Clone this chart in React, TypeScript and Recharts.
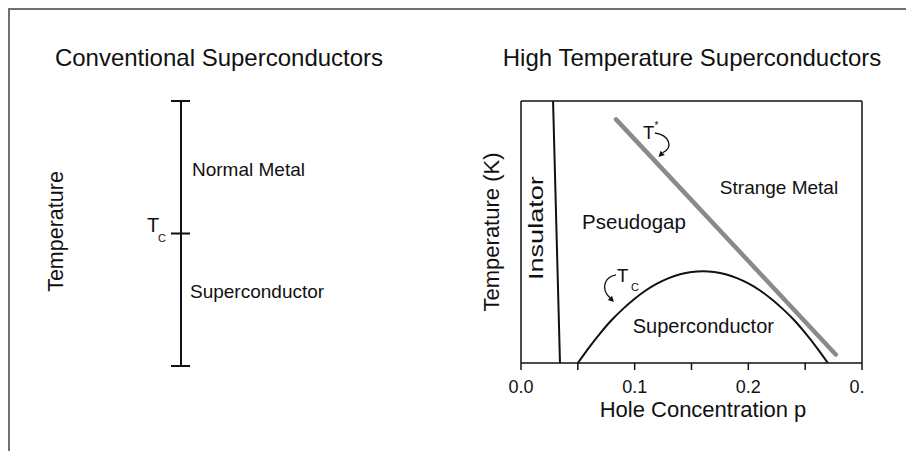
import React from 'react';
import { LineChart, Line, XAxis, YAxis, ReferenceLine, ReferenceDot } from 'recharts';

const FONT = '"Liberation Sans", Arial, Helvetica, sans-serif';
const INK = '#111111';

// ---------- Left panel: conventional superconductors ----------
const convBar = [
  { x: 0.5, T: 0 },
  { x: 0.5, T: 2 },
];
const convLevels = [0, 1, 2]; // bottom, Tc, top
const convCap = [0.4167, 0.575];

// ---------- Right panel: high temperature superconductors ----------
const insulatorBoundary = [
  { p: 0.0282, T: 400 },
  { p: 0.0343, T: 0 },
];
const tStarLine = [
  { p: 0.0836, T: 372 },
  { p: 0.2769, T: 13 },
];
const tcDome = [
  { p: 0.05, T: 0 },
  { p: 0.06, T: 24 },
  { p: 0.07, T: 46 },
  { p: 0.08, T: 66 },
  { p: 0.09, T: 83 },
  { p: 0.1, T: 98 },
  { p: 0.11, T: 111 },
  { p: 0.12, T: 121.5 },
  { p: 0.13, T: 129.6 },
  { p: 0.14, T: 135.4 },
  { p: 0.15, T: 138.8 },
  { p: 0.16, T: 140 },
  { p: 0.17, T: 138.8 },
  { p: 0.18, T: 135.4 },
  { p: 0.19, T: 129.6 },
  { p: 0.2, T: 121.5 },
  { p: 0.21, T: 111 },
  { p: 0.22, T: 98 },
  { p: 0.23, T: 83 },
  { p: 0.24, T: 66 },
  { p: 0.25, T: 46 },
  { p: 0.26, T: 24 },
  { p: 0.27, T: 0 },
];
const xTicks = [0, 0.05, 0.1, 0.15, 0.2, 0.25, 0.3];
const xTickLabels = ['0.0', '', '0.1', '', '0.2', '', '0.'];
const yTicks = [0, 100, 200, 300, 400];

const anno = (key: string, x: number, y: number, render: (cx: number, cy: number) => React.ReactNode) => (
  <ReferenceDot
    key={key}
    x={x}
    y={y}
    r={0}
    fill="none"
    stroke="none"
    ifOverflow="visible"
    label={(props: any) => {
      const vb = props.viewBox || {};
      return <g>{render(vb.x, vb.y)}</g>;
    }}
  />
);

const XTick = (props: any) => {
  const { x, y, payload } = props;
  const i = xTicks.indexOf(payload.value);
  const label = i >= 0 ? xTickLabels[i] : '';
  if (!label) return null;
  const last = label === '0.';
  return (
    <text
      x={last ? x - 12.5 : x}
      y={y}
      dy="0.71em"
      textAnchor={last ? 'start' : 'middle'}
      fontFamily={FONT}
      fontSize={18}
      fill={INK}
    >
      {label}
    </text>
  );
};

export default function App() {
  return (
    <div style={{ position: 'absolute', left: 0, top: 0, width: 906, height: 451, background: '#fff' }}>
      <div
        style={{
          position: 'absolute',
          left: 8,
          top: 8,
          width: 898,
          height: 443,
          borderTop: '2px solid #707070',
          borderLeft: '2px solid #707070',
          boxSizing: 'border-box',
        }}
      />
      <svg style={{ position: 'absolute', left: 0, top: 0 }} width={906} height={451}>
        <text x={219} y={66} textAnchor="middle" fontFamily={FONT} fontSize={24} fill={INK}>
          Conventional Superconductors
        </text>
        <text x={692} y={66} textAnchor="middle" fontFamily={FONT} fontSize={24} fill={INK}>
          High Temperature Superconductors
        </text>
      </svg>

      {/* Left panel */}
      <div style={{ position: 'absolute', left: 0, top: 0 }}>
        <LineChart width={420} height={451} margin={{ top: 101, right: 179, bottom: 85, left: 0 }}>
          <XAxis type="number" dataKey="x" domain={[0, 1]} hide allowDataOverflow />
          <YAxis
            type="number"
            domain={[0, 2]}
            width={121}
            axisLine={false}
            tickLine={false}
            tick={false}
            allowDataOverflow
            label={(props: any) => {
              const vb = props.viewBox;
              const cx = 63;
              const cy = vb.y + vb.height / 2 - 2;
              return (
                <text
                  x={cx}
                  y={cy}
                  transform={`rotate(-90, ${cx}, ${cy})`}
                  textAnchor="middle"
                  fontFamily={FONT}
                  fontSize={21.5}
                  fill={INK}
                >
                  Temperature
                </text>
              );
            }}
          />
          <Line data={convBar} dataKey="T" stroke={INK} strokeWidth={2} dot={false} isAnimationActive={false} />
          {convLevels.map((lv) => (
            <ReferenceLine
              key={'cap' + lv}
              segment={[
                { x: convCap[0], y: lv },
                { x: convCap[1], y: lv },
              ]}
              stroke={INK}
              strokeWidth={2}
              ifOverflow="visible"
            />
          ))}
          {anno('nm', 0.5917, 1.432, (x, y) => (
            <text x={x} y={y} fontFamily={FONT} fontSize={19} fill={INK}>
              Normal Metal
            </text>
          ))}
          {anno('sc', 0.575, 0.515, (x, y) => (
            <text x={x} y={y} fontFamily={FONT} fontSize={19} fill={INK}>
              Superconductor
            </text>
          ))}
          {anno('tc', 0.225, 1.015, (x, y) => (
            <g>
              <text x={x - 1} y={y} fontFamily={FONT} fontSize={20} fill={INK}>
                T
              </text>
              <text x={x + 10} y={y + 10} fontFamily={FONT} fontSize={11} fill={INK}>
                C
              </text>
            </g>
          ))}
        </LineChart>
      </div>

      {/* Right panel */}
      <div style={{ position: 'absolute', left: 420, top: 0 }}>
        <LineChart width={486} height={451} margin={{ top: 101, right: 44, bottom: 58, left: 41 }}>
          <XAxis
            type="number"
            dataKey="p"
            domain={[0, 0.3]}
            ticks={xTicks}
            interval={0}
            allowDataOverflow
            height={30}
            tickSize={7}
            tickMargin={10}
            axisLine={{ stroke: INK, strokeWidth: 1.5 }}
            tickLine={{ stroke: INK, strokeWidth: 1.5 }}
            tick={<XTick />}
            label={(props: any) => {
              const vb = props.viewBox;
              return (
                <text
                  x={vb.x + vb.width / 2 + 11.5}
                  y={vb.y + 54}
                  textAnchor="middle"
                  fontFamily={FONT}
                  fontSize={22}
                  fill={INK}
                >
                  Hole Concentration p
                </text>
              );
            }}
          />
          <YAxis
            type="number"
            domain={[0, 400]}
            ticks={yTicks}
            interval={0}
            allowDataOverflow
            width={60}
            tickSize={6}
            axisLine={{ stroke: INK, strokeWidth: 1.5 }}
            tickLine={{ stroke: INK, strokeWidth: 1.5 }}
            tick={false}
            label={(props: any) => {
              const vb = props.viewBox;
              const cx = vb.x + 38;
              const cy = vb.y + vb.height / 2;
              return (
                <text
                  x={cx}
                  y={cy}
                  transform={`rotate(-90, ${cx}, ${cy})`}
                  textAnchor="middle"
                  fontFamily={FONT}
                  fontSize={22}
                  fill={INK}
                >
                  Temperature (K)
                </text>
              );
            }}
          />
          <ReferenceLine y={400} stroke={INK} strokeWidth={1.5} ifOverflow="visible" />
          <ReferenceLine x={0.3} stroke={INK} strokeWidth={1.5} ifOverflow="visible" />
          <Line data={insulatorBoundary} dataKey="T" stroke={INK} strokeWidth={2} dot={false} isAnimationActive={false} />
          <Line
            data={tcDome}
            dataKey="T"
            type="monotone"
            stroke={INK}
            strokeWidth={2}
            dot={false}
            isAnimationActive={false}
          />
          <Line
            data={tStarLine}
            dataKey="T"
            stroke="#8a8a8a"
            strokeWidth={4.5}
            strokeLinecap="round"
            dot={false}
            isAnimationActive={false}
          />
          {anno('ins', 0.01935, 206, (x, y) => (
            <text
              x={x}
              y={y}
              transform={`rotate(-90, ${x}, ${y})`}
              textAnchor="middle"
              fontFamily={FONT}
              fontSize={20}
              textLength={104}
              lengthAdjust="spacingAndGlyphs"
              fill={INK}
            >
              Insulator
            </text>
          ))}
          {anno('pg', 0.0994, 204.6, (x, y) => (
            <text x={x} y={y} textAnchor="middle" fontFamily={FONT} fontSize={20.5} fill={INK}>
              Pseudogap
            </text>
          ))}
          {anno('sm', 0.227, 258, (x, y) => (
            <text x={x} y={y} textAnchor="middle" fontFamily={FONT} fontSize={19} fill={INK}>
              Strange Metal
            </text>
          ))}
          {anno('scr', 0.1604, 46.3, (x, y) => (
            <text x={x} y={y} textAnchor="middle" fontFamily={FONT} fontSize={20} fill={INK}>
              Superconductor
            </text>
          ))}
          {anno('tstar', 0.1073, 342, (x, y) => (
            <g>
              <text x={x} y={y} fontFamily={FONT} fontSize={18.5} fill={INK}>
                T
              </text>
              <text x={x + 11.5} y={y - 10} fontFamily={FONT} fontSize={10} fill={INK}>
                *
              </text>
              <path
                d={`M ${x + 12} ${y - 6} C ${x + 26} ${y - 4}, ${x + 31} ${y + 8}, ${x + 19.7} ${y + 13.8}`}
                fill="none"
                stroke={INK}
                strokeWidth={1.3}
              />
              <polygon
                points={`${x + 15.5},${y + 18} ${x + 21.8},${y + 15.9} ${x + 17.6},${y + 11.7}`}
                fill={INK}
              />
            </g>
          ))}
          {anno('tcr', 0.0845, 123.7, (x, y) => (
            <g>
              <text x={x} y={y} fontFamily={FONT} fontSize={18.5} fill={INK}>
                T
              </text>
              <text x={x + 14} y={y + 9} fontFamily={FONT} fontSize={11} fill={INK}>
                C
              </text>
              <path
                d={`M ${x - 1} ${y - 7} C ${x - 12} ${y - 5}, ${x - 17} ${y + 6}, ${x - 7.2} ${y + 15.8}`}
                fill="none"
                stroke={INK}
                strokeWidth={1.3}
              />
              <polygon
                points={`${x - 3},${y + 20} ${x - 5.1},${y + 13.7} ${x - 9.3},${y + 17.9}`}
                fill={INK}
              />
            </g>
          ))}
        </LineChart>
      </div>
    </div>
  );
}
